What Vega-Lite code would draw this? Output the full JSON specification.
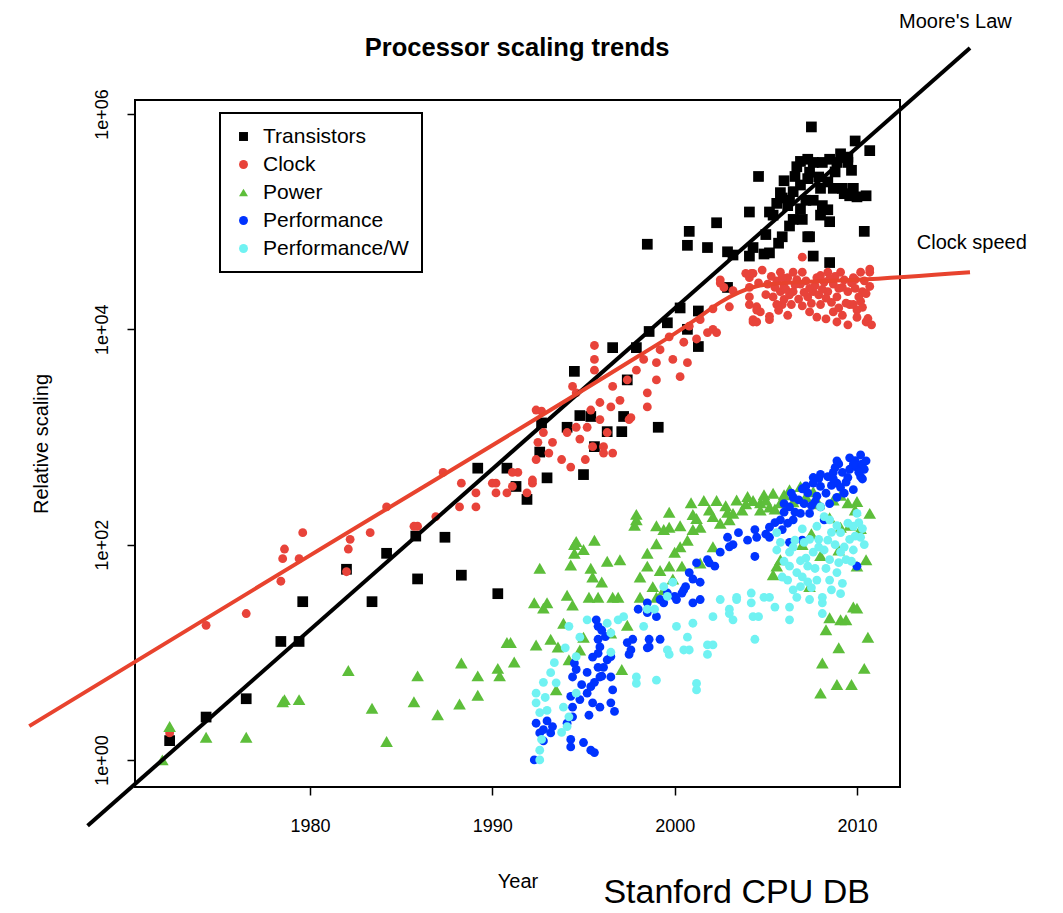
{
"$schema": "https://vega.github.io/schema/vega-lite/v6.json",
"width": 765, "height": 687,
"autosize": {"type": "none"},
"padding": {"left": 135, "top": 100, "right": 163, "bottom": 126},
"background": "white",
"config": {
  "view": {"stroke": "black", "strokeWidth": 2},
  "font": "Liberation Sans",
  "axis": {"grid": false, "domain": false, "tickColor": "black", "tickWidth": 1.5, "tickSize": 8, "labelColor": "black", "titleColor": "black", "titleFontWeight": "normal", "labelFont": "Liberation Sans", "titleFont": "Liberation Sans"},
  "legend": {"orient": "none", "legendX": 85, "legendY": 13, "padding": 13, "strokeColor": "black", "strokeWidth": 2, "fillColor": "white", "labelFontSize": 21, "labelFont": "Liberation Sans", "labelColor": "black", "rowPadding": 6, "labelOffset": 9, "symbolSize": 80, "symbolOpacity": 1, "symbolStrokeWidth": 0}
},
"datasets": {
"points": [
{"series":"Transistors","year":1972.3,"value":1.51},{"series":"Transistors","year":1974.3,"value":2.5},{"series":"Transistors","year":1976.5,"value":3.7},{"series":"Transistors","year":1978.4,"value":12.6},{"series":"Transistors","year":1979.4,"value":12.6},{"series":"Transistors","year":1979.6,"value":29.5},{"series":"Transistors","year":1982.0,"value":59},{"series":"Transistors","year":1983.4,"value":29.5},{"series":"Transistors","year":1984.2,"value":83},{"series":"Transistors","year":1985.9,"value":48},{"series":"Transistors","year":1985.8,"value":120},{"series":"Transistors","year":1987.4,"value":117},{"series":"Transistors","year":1988.3,"value":52},{"series":"Transistors","year":1989.2,"value":513},{"series":"Transistors","year":1990.3,"value":35},{"series":"Transistors","year":1990.8,"value":513},{"series":"Transistors","year":1991.3,"value":347},{"series":"Transistors","year":1991.9,"value":263},{"series":"Transistors","year":1992.6,"value":724},{"series":"Transistors","year":1992.7,"value":1350},{"series":"Transistors","year":1993.0,"value":417},{"series":"Transistors","year":1994.5,"value":4070},{"series":"Transistors","year":1994.1,"value":1230},{"series":"Transistors","year":1994.8,"value":1580},{"series":"Transistors","year":1995.0,"value":447},{"series":"Transistors","year":1995.4,"value":1550},{"series":"Transistors","year":1995.6,"value":813},{"series":"Transistors","year":1996.6,"value":6760},{"series":"Transistors","year":1996.3,"value":1120},{"series":"Transistors","year":1997.1,"value":1120},{"series":"Transistors","year":1997.2,"value":1550},{"series":"Transistors","year":1997.4,"value":3390},{"series":"Transistors","year":1999.1,"value":1230},{"series":"Transistors","year":1997.9,"value":6760},{"series":"Transistors","year":1998.6,"value":9550},{"series":"Transistors","year":1999.6,"value":11500},{"series":"Transistors","year":2000.3,"value":15800},{"series":"Transistors","year":2001.3,"value":14800},{"series":"Transistors","year":2000.7,"value":10000},{"series":"Transistors","year":2001.3,"value":6920},{"series":"Transistors","year":2002.9,"value":24500},{"series":"Transistors","year":1998.5,"value":61700},{"series":"Transistors","year":2000.7,"value":60300},{"series":"Transistors","year":2000.8,"value":81300},{"series":"Transistors","year":2001.8,"value":57500},{"series":"Transistors","year":2002.3,"value":97700},{"series":"Transistors","year":2003.2,"value":49000},{"series":"Transistors","year":2004.1,"value":47900},{"series":"Transistors","year":2004.1,"value":123000},{"series":"Transistors","year":2004.6,"value":263000},{"series":"Transistors","year":2005.2,"value":123000},{"series":"Transistors","year":2005.2,"value":51300},{"series":"Transistors","year":2005.0,"value":75900},{"series":"Transistors","year":2005.9,"value":166000},{"series":"Transistors","year":2005.9,"value":72400},{"series":"Transistors","year":2006.6,"value":263000},{"series":"Transistors","year":2006.5,"value":105000},{"series":"Transistors","year":2006.9,"value":363000},{"series":"Transistors","year":2007.5,"value":759000},{"series":"Transistors","year":2007.2,"value":158000},{"series":"Transistors","year":2007.4,"value":72400},{"series":"Transistors","year":2007.6,"value":47900},{"series":"Transistors","year":2008.1,"value":355000},{"series":"Transistors","year":2008.4,"value":234000},{"series":"Transistors","year":2008.4,"value":129000},{"series":"Transistors","year":2008.5,"value":100000},{"series":"Transistors","year":2008.5,"value":41700},{"series":"Transistors","year":2009.1,"value":427000},{"series":"Transistors","year":2009.5,"value":355000},{"series":"Transistors","year":2009.6,"value":174000},{"series":"Transistors","year":2009.9,"value":562000},{"series":"Transistors","year":2010.5,"value":174000},{"series":"Transistors","year":2010.7,"value":457000},{"series":"Transistors","year":2010.4,"value":81300},{"series":"Transistors","year":2008.0,"value":204000},{"series":"Transistors","year":2007.3,"value":251000},{"series":"Transistors","year":2006.9,"value":219000},{"series":"Transistors","year":2006.2,"value":141000},{"series":"Transistors","year":2006.9,"value":132000},{"series":"Transistors","year":2006.3,"value":91200},{"series":"Transistors","year":2007.0,"value":105000},{"series":"Transistors","year":2007.6,"value":158000},{"series":"Transistors","year":2009.3,"value":182000},{"series":"Transistors","year":2010.0,"value":170000},{"series":"Transistors","year":2008.7,"value":204000},{"series":"Transistors","year":2007.3,"value":380000},{"series":"Transistors","year":2008.5,"value":380000},{"series":"Transistors","year":2009.5,"value":398000},{"series":"Transistors","year":2007.6,"value":355000},{"series":"Transistors","year":2008.9,"value":355000},{"series":"Transistors","year":2006.7,"value":324000},{"series":"Transistors","year":2007.4,"value":288000},{"series":"Transistors","year":2005.7,"value":63100},{"series":"Transistors","year":2005.8,"value":186000},{"series":"Transistors","year":2005.6,"value":148000},{"series":"Transistors","year":2006.3,"value":158000},{"series":"Transistors","year":2008.1,"value":141000},{"series":"Transistors","year":2008.0,"value":115000},{"series":"Transistors","year":2007.3,"value":72400},{"series":"Transistors","year":2009.8,"value":204000},{"series":"Transistors","year":2009.2,"value":204000},{"series":"Transistors","year":2005.4,"value":115000},{"series":"Transistors","year":2004.9,"value":50100},{"series":"Transistors","year":2002.9,"value":52500},{"series":"Transistors","year":2004.3,"value":57500},{"series":"Transistors","year":2006.0,"value":240000},{"series":"Transistors","year":2008.8,"value":290000},{"series":"Transistors","year":2009.7,"value":300000},{"series":"Transistors","year":2007.9,"value":260000},{"series":"Transistors","year":2006.5,"value":190000},
{"series":"Clock","year":1972.3,"value":1.78},{"series":"Clock","year":1974.3,"value":17.8},{"series":"Clock","year":1976.5,"value":22.9},{"series":"Clock","year":1978.4,"value":45.7},{"series":"Clock","year":1978.5,"value":74},{"series":"Clock","year":1978.6,"value":91},{"series":"Clock","year":1979.4,"value":74},{"series":"Clock","year":1979.6,"value":129},{"series":"Clock","year":1982.0,"value":56},{"series":"Clock","year":1982.1,"value":91},{"series":"Clock","year":1982.2,"value":112},{"series":"Clock","year":1983.3,"value":129},{"series":"Clock","year":1984.2,"value":224},{"series":"Clock","year":1985.7,"value":148},{"series":"Clock","year":1985.9,"value":148},{"series":"Clock","year":1986.9,"value":182},{"series":"Clock","year":1987.3,"value":468},{"series":"Clock","year":1988.2,"value":224},{"series":"Clock","year":1988.3,"value":372},{"series":"Clock","year":1989.1,"value":302},{"series":"Clock","year":1989.1,"value":224},{"series":"Clock","year":1990.2,"value":372},{"series":"Clock","year":1990.2,"value":302},{"series":"Clock","year":1990.8,"value":302},
{"series":"Clock","year":1995.6,"value":7080},{"series":"Clock","year":1995.6,"value":5250},{"series":"Clock","year":1995.6,"value":4170},{"series":"Clock","year":1994.6,"value":2570},{"series":"Clock","year":1994.4,"value":2950},{"series":"Clock","year":1992.7,"value":1740},{"series":"Clock","year":1992.8,"value":1100},{"series":"Clock","year":1992.5,"value":891},{"series":"Clock","year":1993.3,"value":891},{"series":"Clock","year":1992.4,"value":617},{"series":"Clock","year":1993.1,"value":708},{"series":"Clock","year":1993.8,"value":617},{"series":"Clock","year":1994.1,"value":1100},{"series":"Clock","year":1994.6,"value":1230},{"series":"Clock","year":1994.8,"value":955},{"series":"Clock","year":1995.2,"value":1230},{"series":"Clock","year":1995.4,"value":1780},{"series":"Clock","year":1995.9,"value":2090},{"series":"Clock","year":1996.5,"value":1900},{"series":"Clock","year":1995.9,"value":1450},{"series":"Clock","year":1996.3,"value":1100},{"series":"Clock","year":1995.5,"value":813},{"series":"Clock","year":1996.1,"value":708},{"series":"Clock","year":1996.6,"value":708},{"series":"Clock","year":1995.1,"value":617},{"series":"Clock","year":1994.3,"value":525},{"series":"Clock","year":1991.4,"value":468},{"series":"Clock","year":1992.2,"value":372},{"series":"Clock","year":1991.1,"value":347},{"series":"Clock","year":1996.6,"value":2950},{"series":"Clock","year":1997.4,"value":3390},{"series":"Clock","year":1997.0,"value":2190},{"series":"Clock","year":1997.5,"value":1450},{"series":"Clock","year":1997.9,"value":4170},{"series":"Clock","year":1998.3,"value":5250},{"series":"Clock","year":1998.5,"value":1900},{"series":"Clock","year":1998.5,"value":2570},{"series":"Clock","year":1999.0,"value":4900},{"series":"Clock","year":1999.0,"value":3390},{"series":"Clock","year":1999.2,"value":6460},{"series":"Clock","year":1999.7,"value":8510},{"series":"Clock","year":1999.9,"value":5250},{"series":"Clock","year":2000.3,"value":3630},{"series":"Clock","year":2000.7,"value":4900},{"series":"Clock","year":2000.5,"value":7590},{"series":"Clock","year":2000.8,"value":10700},{"series":"Clock","year":2001.2,"value":8130},{"series":"Clock","year":2001.4,"value":12300},{"series":"Clock","year":2001.8,"value":9330},{"series":"Clock","year":2002.1,"value":10000},{"series":"Clock","year":2002.3,"value":9330},{"series":"Clock","year":2002.1,"value":15500},{"series":"Clock","year":2002.5,"value":26900},{"series":"Clock","year":2003.0,"value":16200},{"series":"Clock","year":2003.2,"value":22900},{"series":"Clock","year":2004.1,"value":30200},{"series":"Clock","year":2004.1,"value":24500},{"series":"Clock","year":2004.3,"value":12300},{"series":"Clock","year":2004.5,"value":16200},{"series":"Clock","year":1990.0,"value":372},{"series":"Clock","year":1991.1,"value":468},{"series":"Clock","year":1991.9,"value":302},{"series":"Clock","year":1992.4,"value":1780},{"series":"Clock","year":1992.2,"value":398},{"series":"Clock","year":1996.1,"value":813},{"series":"Clock","year":1997.6,"value":1510},
{"series":"Clock","year":2004.2,"value":33100},{"series":"Clock","year":2004.8,"value":35500},{"series":"Clock","year":2004.1,"value":17000},{"series":"Clock","year":2004.7,"value":14500},{"series":"Clock","year":2004.3,"value":11700},{"series":"Clock","year":2005.2,"value":13200},{"series":"Clock","year":2005.8,"value":33900},{"series":"Clock","year":2005.8,"value":22400},{"series":"Clock","year":2005.9,"value":17000},{"series":"Clock","year":2006.2,"value":30200},{"series":"Clock","year":2006.5,"value":33900},{"series":"Clock","year":2006.5,"value":22400},{"series":"Clock","year":2006.9,"value":26300},{"series":"Clock","year":2007.0,"value":46800},{"series":"Clock","year":2007.0,"value":33900},{"series":"Clock","year":2007.3,"value":20000},{"series":"Clock","year":2007.4,"value":14500},{"series":"Clock","year":2007.8,"value":30200},{"series":"Clock","year":2008.0,"value":17000},{"series":"Clock","year":2008.4,"value":22400},{"series":"Clock","year":2008.4,"value":33900},{"series":"Clock","year":2008.7,"value":26300},{"series":"Clock","year":2008.7,"value":14500},{"series":"Clock","year":2008.9,"value":11700},{"series":"Clock","year":2009.1,"value":33900},{"series":"Clock","year":2009.5,"value":22400},{"series":"Clock","year":2009.6,"value":17000},{"series":"Clock","year":2009.8,"value":30200},{"series":"Clock","year":2010.0,"value":12900},{"series":"Clock","year":2010.2,"value":33900},{"series":"Clock","year":2010.3,"value":22400},{"series":"Clock","year":2010.5,"value":11700},{"series":"Clock","year":2010.7,"value":33900},{"series":"Clock","year":2008.0,"value":31600},{"series":"Clock","year":2006.4,"value":17000},{"series":"Clock","year":2007.6,"value":22400},{"series":"Clock","year":2005.6,"value":28200},{"series":"Clock","year":2005.6,"value":17000},{"series":"Clock","year":2005.1,"value":26300},{"series":"Clock","year":2005.4,"value":20000},{"series":"Clock","year":2009.8,"value":17000},{"series":"Clock","year":2010.2,"value":18200},{"series":"Clock","year":2004.3,"value":33100},{"series":"Clock","year":2004.5,"value":11700},{"series":"Clock","year":2005.2,"value":12300},{"series":"Clock","year":2010.6,"value":12600},{"series":"Clock","year":2009.5,"value":11000},{"series":"Clock","year":2010.0,"value":15100},{"series":"Clock","year":2010.7,"value":36300},{"series":"Clock","year":2002.5,"value":28800},{"series":"Clock","year":2002.7,"value":24500},{"series":"Clock","year":2004.1,"value":20000},{"series":"Clock","year":2004.5,"value":15100},{"series":"Clock","year":2003.9,"value":33100},{"series":"Clock","year":2006.0,"value":25100},{"series":"Clock","year":2006.8,"value":19100},{"series":"Clock","year":2007.2,"value":28200},{"series":"Clock","year":2007.9,"value":20900},{"series":"Clock","year":2008.2,"value":27500},{"series":"Clock","year":2008.9,"value":20000},{"series":"Clock","year":2009.3,"value":28800},{"series":"Clock","year":2009.9,"value":24000},{"series":"Clock","year":2010.4,"value":28200},{"series":"Clock","year":2008.6,"value":17800},{"series":"Clock","year":2007.5,"value":17400},{"series":"Clock","year":2006.3,"value":20900},{"series":"Clock","year":2005.9,"value":30200},{"series":"Clock","year":2009.0,"value":15800},{"series":"Clock","year":2010.1,"value":20000},{"series":"Clock","year":2006.1,"value":23500},{"series":"Clock","year":2006.7,"value":29000},{"series":"Clock","year":2007.7,"value":25500},{"series":"Clock","year":2008.3,"value":19500},{"series":"Clock","year":2009.2,"value":24500},{"series":"Clock","year":2009.7,"value":27000},{"series":"Clock","year":2010.5,"value":21500},{"series":"Clock","year":2005.3,"value":31000},{"series":"Clock","year":2007.1,"value":22000},{"series":"Clock","year":2008.8,"value":31000},{"series":"Clock","year":2004.6,"value":27000},{"series":"Clock","year":2005.0,"value":21000},{"series":"Clock","year":2005.5,"value":24500},{"series":"Clock","year":2006.0,"value":19000},{"series":"Clock","year":2006.6,"value":26000},{"series":"Clock","year":2007.0,"value":16500},{"series":"Clock","year":2007.4,"value":24000},{"series":"Clock","year":2008.1,"value":23500},{"series":"Clock","year":2008.5,"value":29500},{"series":"Clock","year":2009.0,"value":24000},{"series":"Clock","year":2009.4,"value":17500},{"series":"Clock","year":2009.9,"value":29000},{"series":"Clock","year":2010.3,"value":16000},{"series":"Clock","year":2010.7,"value":25000},{"series":"Clock","year":2006.2,"value":13500},{"series":"Clock","year":2007.8,"value":13000},{"series":"Clock","year":2009.2,"value":13500},{"series":"Clock","year":2005.7,"value":15000},{"series":"Clock","year":2008.3,"value":12500},{"series":"Clock","year":2010.8,"value":11000},
{"series":"Power","year":1971.9,"value":1.0},{"series":"Power","year":1972.3,"value":2.04},{"series":"Power","year":1974.3,"value":1.62},{"series":"Power","year":1976.5,"value":1.62},{"series":"Power","year":1978.5,"value":3.47},{"series":"Power","year":1978.6,"value":3.63},{"series":"Power","year":1979.4,"value":3.63},{"series":"Power","year":1982.1,"value":6.76},{"series":"Power","year":1983.4,"value":3.02},{"series":"Power","year":1984.2,"value":1.48},{"series":"Power","year":1985.7,"value":3.47},{"series":"Power","year":1985.9,"value":6.03},{"series":"Power","year":1987.0,"value":2.63},{"series":"Power","year":1988.2,"value":3.31},{"series":"Power","year":1988.3,"value":7.94},{"series":"Power","year":1989.2,"value":6.03},{"series":"Power","year":1989.2,"value":3.98},{"series":"Power","year":1990.3,"value":7.08},{"series":"Power","year":1990.4,"value":6.03},{"series":"Power","year":1990.8,"value":12.3},{"series":"Power","year":1991.0,"value":12.3},{"series":"Power","year":1991.2,"value":8.13},{"series":"Power","year":1992.4,"value":11.7},{"series":"Power","year":1993.2,"value":13.2},{"series":"Power","year":1992.6,"value":60.3},{"series":"Power","year":1992.3,"value":28.8},{"series":"Power","year":1993.0,"value":28.8},{"series":"Power","year":1992.8,"value":25.7},{"series":"Power","year":1994.1,"value":33.9},{"series":"Power","year":1994.4,"value":27.5},{"series":"Power","year":1994.3,"value":64.6},{"series":"Power","year":1994.6,"value":107},{"series":"Power","year":1994.5,"value":100},{"series":"Power","year":1994.5,"value":83.2},{"series":"Power","year":1995.6,"value":110},{"series":"Power","year":1995.4,"value":60.3},{"series":"Power","year":1995.5,"value":50.1},{"series":"Power","year":1995.3,"value":32.4},{"series":"Power","year":1995.8,"value":32.4},{"series":"Power","year":1997.0,"value":72.4},{"series":"Power","year":1996.6,"value":32.4},{"series":"Power","year":1996.9,"value":32.4},{"series":"Power","year":1997.9,"value":191},{"series":"Power","year":1997.9,"value":170},{"series":"Power","year":1997.8,"value":151},{"series":"Power","year":1999.7,"value":200},{"series":"Power","year":1999.7,"value":145},{"series":"Power","year":1993.9,"value":18.6},{"series":"Power","year":1994.8,"value":10.5},{"series":"Power","year":1995.0,"value":13.8},{"series":"Power","year":1993.5,"value":4.47},{"series":"Power","year":1994.2,"value":8.51},{"series":"Power","year":1997.1,"value":6.92},{"series":"Power","year":1996.5,"value":15.1},{"series":"Power","year":1997.4,"value":17.8},{"series":"Power","year":1998.1,"value":50.1},{"series":"Power","year":1998.5,"value":83.2},{"series":"Power","year":1998.5,"value":63.1},{"series":"Power","year":1999.2,"value":57.5},{"series":"Power","year":1999.0,"value":102},{"series":"Power","year":1998.8,"value":40.7},{"series":"Power","year":1998.1,"value":32.4},{"series":"Power","year":1999.0,"value":32.4},{"series":"Power","year":1999.4,"value":38.0},{"series":"Power","year":2000.3,"value":95.5},{"series":"Power","year":2000.7,"value":110},{"series":"Power","year":2001.0,"value":138},{"series":"Power","year":2001.4,"value":145},{"series":"Power","year":2000.9,"value":245},{"series":"Power","year":2001.6,"value":257},{"series":"Power","year":2002.3,"value":257},{"series":"Power","year":2002.1,"value":182},{"series":"Power","year":2002.5,"value":158},{"series":"Power","year":2003.0,"value":170},{"series":"Power","year":2003.2,"value":195},{"series":"Power","year":2003.7,"value":209},{"series":"Power","year":2004.3,"value":257},{"series":"Power","year":2004.7,"value":245},{"series":"Power","year":2004.7,"value":209},{"series":"Power","year":2005.2,"value":224},{"series":"Power","year":2005.8,"value":245},{"series":"Power","year":2006.3,"value":324},{"series":"Power","year":2006.9,"value":347},{"series":"Power","year":1999.7,"value":63.1},{"series":"Power","year":1999.9,"value":47.9},{"series":"Power","year":1999.4,"value":138},{"series":"Power","year":2000.4,"value":63.1},{"series":"Power","year":2001.4,"value":67.6},{"series":"Power","year":2002.1,"value":95.5},{"series":"Power","year":2005.5,"value":214},{"series":"Power","year":2009.1,"value":288},{"series":"Power","year":2009.5,"value":245},{"series":"Power","year":2010.0,"value":251},{"series":"Power","year":2010.7,"value":195},{"series":"Power","year":2009.1,"value":145},{"series":"Power","year":2009.6,"value":151},{"series":"Power","year":2010.2,"value":141},{"series":"Power","year":2005.6,"value":63.1},{"series":"Power","year":2005.4,"value":52.5},{"series":"Power","year":2005.8,"value":72.4},{"series":"Power","year":2007.4,"value":40.7},{"series":"Power","year":2010.0,"value":63.1},{"series":"Power","year":2010.5,"value":72.4},{"series":"Power","year":2009.8,"value":26.3},{"series":"Power","year":2010.0,"value":25.7},{"series":"Power","year":2008.5,"value":20.9},{"series":"Power","year":2009.1,"value":20.0},{"series":"Power","year":2009.4,"value":20.0},{"series":"Power","year":2008.3,"value":16.2},{"series":"Power","year":2010.6,"value":13.8},{"series":"Power","year":2009.0,"value":11.0},{"series":"Power","year":2008.1,"value":7.94},{"series":"Power","year":2010.4,"value":7.08},{"series":"Power","year":2008.9,"value":5.01},{"series":"Power","year":2009.7,"value":5.01},{"series":"Power","year":2008.0,"value":4.17},{"series":"Power","year":2007.5,"value":126},{"series":"Power","year":2008.5,"value":178},{"series":"Power","year":2009.0,"value":89},{"series":"Power","year":2008.0,"value":79},{"series":"Power","year":2007.0,"value":100},{"series":"Power","year":1993.6,"value":11.2},{"series":"Power","year":2001.9,"value":210},{"series":"Power","year":2002.8,"value":230},{"series":"Power","year":2003.9,"value":240},{"series":"Power","year":2005.0,"value":260},{"series":"Power","year":2006.0,"value":290},{"series":"Power","year":2007.6,"value":310},{"series":"Power","year":2002.9,"value":200},{"series":"Power","year":2001.2,"value":175},{"series":"Power","year":2000.0,"value":85},{"series":"Power","year":2003.4,"value":260},{"series":"Power","year":2004.0,"value":280},{"series":"Power","year":2004.9,"value":290},{"series":"Power","year":2005.4,"value":300},{"series":"Power","year":2006.5,"value":250},{"series":"Power","year":2007.2,"value":280},{"series":"Power","year":2007.9,"value":240},{"series":"Power","year":2008.7,"value":260},{"series":"Power","year":2009.9,"value":210},{"series":"Power","year":2001.0,"value":190},{"series":"Power","year":2000.3,"value":150},{"series":"Power","year":1999.0,"value":150},{"series":"Power","year":1996.0,"value":45},{"series":"Power","year":1995.0,"value":90},{"series":"Power","year":1996.3,"value":70},
{"series":"Performance","year":1992.3,"value":1.0},{"series":"Performance","year":1992.4,"value":2.19},{"series":"Performance","year":1992.8,"value":1.91},{"series":"Performance","year":1993.2,"value":1.78},{"series":"Performance","year":1993.3,"value":2.04},{"series":"Performance","year":1992.6,"value":1.78},{"series":"Performance","year":1994.3,"value":1.55},{"series":"Performance","year":1994.3,"value":1.32},{"series":"Performance","year":1995.0,"value":1.45},{"series":"Performance","year":1995.4,"value":1.23},{"series":"Performance","year":1995.6,"value":1.17},{"series":"Performance","year":1994.1,"value":2.19},{"series":"Performance","year":1994.4,"value":2.51},{"series":"Performance","year":1994.3,"value":3.89},{"series":"Performance","year":1994.4,"value":3.09},{"series":"Performance","year":1994.8,"value":3.63},{"series":"Performance","year":1995.2,"value":4.17},{"series":"Performance","year":1995.4,"value":4.79},{"series":"Performance","year":1995.6,"value":5.25},{"series":"Performance","year":1995.9,"value":5.89},{"series":"Performance","year":1996.1,"value":7.24},{"series":"Performance","year":1996.3,"value":8.51},{"series":"Performance","year":1995.8,"value":7.24},{"series":"Performance","year":1995.8,"value":9.77},{"series":"Performance","year":1995.8,"value":13.2},{"series":"Performance","year":1995.8,"value":17.4},{"series":"Performance","year":1995.7,"value":20.0},{"series":"Performance","year":1995.9,"value":11.2},{"series":"Performance","year":1994.6,"value":6.92},{"series":"Performance","year":1994.5,"value":7.94},{"series":"Performance","year":1994.4,"value":5.89},{"series":"Performance","year":1995.5,"value":3.39},{"series":"Performance","year":1995.9,"value":3.09},{"series":"Performance","year":1996.5,"value":3.39},{"series":"Performance","year":1996.6,"value":4.47},{"series":"Performance","year":1996.5,"value":5.89},{"series":"Performance","year":1996.5,"value":9.12},{"series":"Performance","year":1996.7,"value":2.82},{"series":"Performance","year":1997.4,"value":12.3},{"series":"Performance","year":1997.6,"value":10.5},{"series":"Performance","year":1997.7,"value":13.2},{"series":"Performance","year":1997.5,"value":9.55},{"series":"Performance","year":1998.6,"value":13.2},{"series":"Performance","year":1998.5,"value":11.0},{"series":"Performance","year":1998.0,"value":25.1},{"series":"Performance","year":1998.5,"value":28.8},{"series":"Performance","year":1999.0,"value":21.4},{"series":"Performance","year":1999.2,"value":30.9},{"series":"Performance","year":1999.6,"value":35.5},{"series":"Performance","year":2000.1,"value":30.9},{"series":"Performance","year":2000.4,"value":35.5},{"series":"Performance","year":2000.6,"value":40.7},{"series":"Performance","year":2001.0,"value":47.9},{"series":"Performance","year":2000.8,"value":55.0},{"series":"Performance","year":2001.2,"value":67.6},{"series":"Performance","year":2001.9,"value":67.6},{"series":"Performance","year":2002.2,"value":63.1},{"series":"Performance","year":2001.8,"value":72.4},{"series":"Performance","year":2002.9,"value":117},{"series":"Performance","year":2003.0,"value":95.5},{"series":"Performance","year":2003.5,"value":129},{"series":"Performance","year":2004.4,"value":138},{"series":"Performance","year":2004.4,"value":77.6},{"series":"Performance","year":2004.5,"value":117},{"series":"Performance","year":2005.2,"value":145},{"series":"Performance","year":2005.2,"value":117},{"series":"Performance","year":2005.8,"value":170},{"series":"Performance","year":2006.2,"value":158},{"series":"Performance","year":2006.3,"value":224},{"series":"Performance","year":2006.5,"value":275},{"series":"Performance","year":2006.9,"value":195},{"series":"Performance","year":2007.3,"value":302},{"series":"Performance","year":2007.6,"value":372},{"series":"Performance","year":2008.0,"value":347},{"series":"Performance","year":2008.4,"value":427},{"series":"Performance","year":2008.7,"value":468},{"series":"Performance","year":2008.9,"value":372},{"series":"Performance","year":2009.2,"value":468},{"series":"Performance","year":2009.6,"value":501},{"series":"Performance","year":2010.0,"value":525},{"series":"Performance","year":2010.2,"value":427},{"series":"Performance","year":2010.3,"value":407},{"series":"Performance","year":2009.8,"value":324},{"series":"Performance","year":2008.9,"value":275},{"series":"Performance","year":2008.5,"value":240},{"series":"Performance","year":2008.0,"value":224},{"series":"Performance","year":2007.4,"value":195},{"series":"Performance","year":2006.5,"value":170},{"series":"Performance","year":2005.9,"value":138},{"series":"Performance","year":2008.2,"value":170},{"series":"Performance","year":2010.0,"value":63.1},{"series":"Performance","year":2006.3,"value":105},{"series":"Performance","year":2007.0,"value":110},{"series":"Performance","year":2001.4,"value":44.7},{"series":"Performance","year":2001.4,"value":30.9},{"series":"Performance","year":2001.0,"value":28.8},{"series":"Performance","year":2000.5,"value":38.0},{"series":"Performance","year":2000.0,"value":33.1},{"series":"Performance","year":1999.4,"value":28.8},{"series":"Performance","year":1999.2,"value":13.2},{"series":"Performance","year":1998.6,"value":11.2},{"series":"Performance","year":1998.5,"value":23.4},{"series":"Performance","year":2009.0,"value":562},{"series":"Performance","year":2009.9,"value":603},{"series":"Performance","year":2010.3,"value":562},{"series":"Performance","year":2007.8,"value":282},{"series":"Performance","year":2008.6,"value":355},{"series":"Performance","year":2009.4,"value":380},{"series":"Performance","year":2007.1,"value":240},{"series":"Performance","year":2006.6,"value":200},{"series":"Performance","year":2010.4,"value":501},{"series":"Performance","year":2007.0,"value":330},{"series":"Performance","year":2007.9,"value":410},{"series":"Performance","year":2008.8,"value":520},{"series":"Performance","year":2009.6,"value":640},{"series":"Performance","year":2010.2,"value":680},{"series":"Performance","year":2006.0,"value":200},{"series":"Performance","year":2007.7,"value":250},{"series":"Performance","year":2009.3,"value":300},{"series":"Performance","year":1995.3,"value":2.6},{"series":"Performance","year":1994.9,"value":5.0},{"series":"Performance","year":1996.0,"value":16.0},{"series":"Performance","year":2005.5,"value":160},{"series":"Performance","year":2006.0,"value":240},{"series":"Performance","year":2006.4,"value":300},{"series":"Performance","year":2006.8,"value":260},{"series":"Performance","year":2007.2,"value":350},{"series":"Performance","year":2007.5,"value":230},{"series":"Performance","year":2008.0,"value":450},{"series":"Performance","year":2008.3,"value":300},{"series":"Performance","year":2008.7,"value":410},{"series":"Performance","year":2009.1,"value":340},{"series":"Performance","year":2009.5,"value":420},{"series":"Performance","year":2009.8,"value":560},{"series":"Performance","year":2010.1,"value":470},{"series":"Performance","year":2010.5,"value":600},{"series":"Performance","year":2007.6,"value":420},{"series":"Performance","year":2008.9,"value":600},{"series":"Performance","year":2005.0,"value":125},{"series":"Performance","year":2004.0,"value":110},{"series":"Performance","year":2003.2,"value":100},{"series":"Performance","year":2002.5,"value":85},{"series":"Performance","year":1996.0,"value":6.0},{"series":"Performance","year":1995.5,"value":9.0},{"series":"Performance","year":1995.2,"value":6.5},{"series":"Performance","year":1996.2,"value":14},{"series":"Performance","year":1993.0,"value":2.3},{"series":"Performance","year":1992.8,"value":1.5},
{"series":"Performance/W","year":1992.6,"value":1.0},{"series":"Performance/W","year":1992.6,"value":1.23},{"series":"Performance/W","year":1992.7,"value":1.55},{"series":"Performance/W","year":1992.4,"value":3.39},{"series":"Performance/W","year":1992.6,"value":2.75},{"series":"Performance/W","year":1992.4,"value":4.17},{"series":"Performance/W","year":1992.8,"value":5.25},{"series":"Performance/W","year":1993.2,"value":6.46},{"series":"Performance/W","year":1993.0,"value":2.88},{"series":"Performance/W","year":1993.9,"value":3.09},{"series":"Performance/W","year":1994.1,"value":2.04},{"series":"Performance/W","year":1994.2,"value":2.51},{"series":"Performance/W","year":1994.6,"value":4.17},{"series":"Performance/W","year":1994.6,"value":9.12},{"series":"Performance/W","year":1994.8,"value":13.8},{"series":"Performance/W","year":1995.2,"value":20.0},{"series":"Performance/W","year":1994.2,"value":17.4},{"series":"Performance/W","year":1996.3,"value":18.6},{"series":"Performance/W","year":1996.5,"value":10.0},{"series":"Performance/W","year":1996.5,"value":15.1},{"series":"Performance/W","year":1996.9,"value":20.0},{"series":"Performance/W","year":1997.2,"value":21.4},{"series":"Performance/W","year":1997.9,"value":5.89},{"series":"Performance/W","year":1997.9,"value":5.13},{"series":"Performance/W","year":1999.0,"value":5.5},{"series":"Performance/W","year":1999.6,"value":10.5},{"series":"Performance/W","year":1999.7,"value":9.55},{"series":"Performance/W","year":2000.5,"value":10.5},{"series":"Performance/W","year":2000.8,"value":10.5},{"series":"Performance/W","year":2001.2,"value":5.13},{"series":"Performance/W","year":2001.2,"value":4.47},{"series":"Performance/W","year":2001.8,"value":11.7},{"series":"Performance/W","year":2002.1,"value":11.7},{"series":"Performance/W","year":2001.8,"value":9.55},{"series":"Performance/W","year":2000.1,"value":17.4},{"series":"Performance/W","year":2000.7,"value":13.8},{"series":"Performance/W","year":2001.0,"value":18.6},{"series":"Performance/W","year":1998.5,"value":25.1},{"series":"Performance/W","year":1998.9,"value":25.1},{"series":"Performance/W","year":1999.6,"value":33.1},{"series":"Performance/W","year":1999.9,"value":44.7},{"series":"Performance/W","year":1999.4,"value":40.7},{"series":"Performance/W","year":1998.3,"value":17.4},{"series":"Performance/W","year":2002.5,"value":30.9},{"series":"Performance/W","year":2003.0,"value":25.1},{"series":"Performance/W","year":2003.2,"value":20.0},{"series":"Performance/W","year":2003.4,"value":30.9},{"series":"Performance/W","year":2002.1,"value":21.4},{"series":"Performance/W","year":2004.2,"value":35.5},{"series":"Performance/W","year":2004.2,"value":28.8},{"series":"Performance/W","year":2004.3,"value":21.4},{"series":"Performance/W","year":2004.6,"value":21.4},{"series":"Performance/W","year":2003.4,"value":32.4},{"series":"Performance/W","year":2004.9,"value":32.4},{"series":"Performance/W","year":2005.5,"value":26.3},{"series":"Performance/W","year":2006.3,"value":20.0},{"series":"Performance/W","year":2006.3,"value":26.3},{"series":"Performance/W","year":2006.7,"value":32.4},{"series":"Performance/W","year":2006.9,"value":40.7},{"series":"Performance/W","year":2006.2,"value":46.8},{"series":"Performance/W","year":2006.3,"value":63.1},{"series":"Performance/W","year":2006.3,"value":85.1},{"series":"Performance/W","year":2006.7,"value":55.0},{"series":"Performance/W","year":2007.3,"value":63.1},{"series":"Performance/W","year":2007.6,"value":85.1},{"series":"Performance/W","year":2007.4,"value":112},{"series":"Performance/W","year":2007.8,"value":148},{"series":"Performance/W","year":2008.5,"value":170},{"series":"Performance/W","year":2009.1,"value":129},{"series":"Performance/W","year":2009.6,"value":112},{"series":"Performance/W","year":2010.0,"value":195},{"series":"Performance/W","year":2009.8,"value":148},{"series":"Performance/W","year":2007.8,"value":46.8},{"series":"Performance/W","year":2008.5,"value":46.8},{"series":"Performance/W","year":2008.9,"value":55.0},{"series":"Performance/W","year":2009.2,"value":43.7},{"series":"Performance/W","year":2008.1,"value":32.4},{"series":"Performance/W","year":2008.1,"value":28.8},{"series":"Performance/W","year":2009.4,"value":72.4},{"series":"Performance/W","year":2009.1,"value":85.1},{"series":"Performance/W","year":2008.5,"value":72.4},{"series":"Performance/W","year":2008.2,"value":89.1},{"series":"Performance/W","year":2007.1,"value":105},{"series":"Performance/W","year":2005.8,"value":105},{"series":"Performance/W","year":2008.2,"value":182},{"series":"Performance/W","year":2008.0,"value":224},{"series":"Performance/W","year":2010.2,"value":117},{"series":"Performance/W","year":2009.8,"value":89.1},{"series":"Performance/W","year":2005.6,"value":89.1},{"series":"Performance/W","year":2005.6,"value":129},{"series":"Performance/W","year":2004.4,"value":13.2},{"series":"Performance/W","year":2003.0,"value":22.9},{"series":"Performance/W","year":2005.2,"value":32.4},{"series":"Performance/W","year":2007.4,"value":30.9},{"series":"Performance/W","year":2008.1,"value":22.9},{"series":"Performance/W","year":2007.0,"value":50.1},{"series":"Performance/W","year":2007.5,"value":39.8},{"series":"Performance/W","year":2008.8,"value":100},{"series":"Performance/W","year":2009.5,"value":158},{"series":"Performance/W","year":2010.3,"value":141},{"series":"Performance/W","year":2007.9,"value":112},{"series":"Performance/W","year":2006.9,"value":70.8},{"series":"Performance/W","year":2007.2,"value":75},{"series":"Performance/W","year":2008.3,"value":60},{"series":"Performance/W","year":2009.0,"value":68},{"series":"Performance/W","year":2009.9,"value":120},{"series":"Performance/W","year":2006.5,"value":95},{"series":"Performance/W","year":2007.9,"value":95},{"series":"Performance/W","year":2008.6,"value":130},{"series":"Performance/W","year":1993.5,"value":5.2},{"series":"Performance/W","year":1992.9,"value":3.8},{"series":"Performance/W","year":2006.0,"value":70},{"series":"Performance/W","year":2006.6,"value":110},{"series":"Performance/W","year":2007.0,"value":140},{"series":"Performance/W","year":2007.7,"value":60},{"series":"Performance/W","year":2008.4,"value":110},{"series":"Performance/W","year":2008.9,"value":150},{"series":"Performance/W","year":2009.3,"value":95},{"series":"Performance/W","year":2009.7,"value":70},{"series":"Performance/W","year":2010.1,"value":160},{"series":"Performance/W","year":2010.4,"value":100},{"series":"Performance/W","year":2007.3,"value":45},{"series":"Performance/W","year":2006.5,"value":38},{"series":"Performance/W","year":2005.9,"value":50},{"series":"Performance/W","year":2008.6,"value":38},{"series":"Performance/W","year":2009.1,"value":35},{"series":"Performance/W","year":1993.4,"value":8},{"series":"Performance/W","year":1994.0,"value":11},{"series":"Performance/W","year":1993.8,"value":1.8}
],
"moore": [{"year":1967.8,"value":0.244},{"year":2016.2,"value":4100000}],
"clockfit": [{"year":1964.6,"value":2.06},{"year":1980,"value":79.4},{"year":1998,"value":5620},{"year":2000,"value":9120},{"year":2001.4,"value":13200},{"year":2002.5,"value":17800},{"year":2003.5,"value":21900},{"year":2004.5,"value":25100},{"year":2006,"value":26900},{"year":2010,"value":28800},{"year":2016.2,"value":33900}],
"notes": [{"year":2015.4,"value":7100000,"label":"Moore's Law"},{"year":2016.3,"value":63100,"label":"Clock speed"}],
"heading": [{"year":1991.36,"value":4070000,"label":"Processor scaling trends"}],
"credit": [{"year":2003.4,"value":0.0575,"label":"Stanford CPU DB"}]
},
"encoding": {
  "x": {"field": "year", "type": "quantitative", "scale": {"domain": [1970.4, 2012.36], "nice": false, "zero": false},
        "axis": {"title": "Year", "values": [1980, 1990, 2000, 2010], "format": "d", "labelFontSize": 18, "labelPadding": 22, "titleFontSize": 20, "titlePadding": 36, "labelFlush": false}},
  "y": {"field": "value", "type": "quantitative", "scale": {"type": "log", "domain": [0.56, 1350000], "nice": false},
        "axis": {"title": "Relative scaling", "values": [1, 100, 10000, 1000000], "labelExpr": "'1e+0' + round(log(datum.value)/LN10)", "labelAngle": -90, "labelAlign": "center", "labelBaseline": "bottom", "labelPadding": 16, "labelFontSize": 18, "titleFontSize": 20, "titlePadding": 42, "labelFlush": false}}
},
"layer": [
  {"data": {"name": "points"}, "transform": [{"filter": "datum.series === 'Transistors'"}],
   "mark": {"type": "point", "filled": true, "opacity": 1, "strokeWidth": 0, "size": 115},
   "encoding": {
     "color": {"field": "series", "type": "nominal", "title": null,
       "scale": {"domain": ["Transistors", "Clock", "Power", "Performance", "Performance/W"], "range": ["#000000", "#E8433A", "#5DBE3A", "#0033FF", "#70F2F2"]}},
     "shape": {"field": "series", "type": "nominal", "title": null,
       "scale": {"domain": ["Transistors", "Clock", "Power", "Performance", "Performance/W"], "range": ["square", "circle", "triangle-up", "circle", "circle"]}}
   }},
  {"data": {"name": "points"}, "transform": [{"filter": "datum.series === 'Clock'"}],
   "mark": {"type": "point", "filled": true, "opacity": 1, "strokeWidth": 0, "size": 78},
   "encoding": {
     "color": {"field": "series", "type": "nominal", "title": null},
     "shape": {"field": "series", "type": "nominal", "title": null}
   }},
  {"data": {"name": "points"}, "transform": [{"filter": "datum.series === 'Power'"}],
   "mark": {"type": "point", "filled": true, "opacity": 1, "strokeWidth": 0, "size": 160},
   "encoding": {
     "color": {"field": "series", "type": "nominal", "title": null},
     "shape": {"field": "series", "type": "nominal", "title": null}
   }},
  {"data": {"name": "points"}, "transform": [{"filter": "datum.series === 'Performance' || datum.series === 'Performance/W'"}],
   "mark": {"type": "point", "filled": true, "opacity": 1, "strokeWidth": 0, "size": 78},
   "encoding": {
     "color": {"field": "series", "type": "nominal", "title": null},
     "shape": {"field": "series", "type": "nominal", "title": null}
   }},
  {"data": {"name": "moore"}, "mark": {"type": "line", "color": "black", "strokeWidth": 4}, "encoding": {}},
  {"data": {"name": "clockfit"}, "mark": {"type": "line", "color": "#E8432E", "strokeWidth": 4, "interpolate": "monotone"}, "encoding": {}},
  {"data": {"name": "notes"}, "mark": {"type": "text", "fontSize": 20, "font": "Liberation Sans", "color": "black"}, "encoding": {"text": {"field": "label"}}},
  {"data": {"name": "heading"}, "mark": {"type": "text", "fontSize": 25.5, "fontWeight": "bold", "font": "Liberation Sans", "color": "black"}, "encoding": {"text": {"field": "label"}}},
  {"data": {"name": "credit"}, "mark": {"type": "text", "fontSize": 34, "font": "Liberation Sans", "color": "black"}, "encoding": {"text": {"field": "label"}}}
]
}
